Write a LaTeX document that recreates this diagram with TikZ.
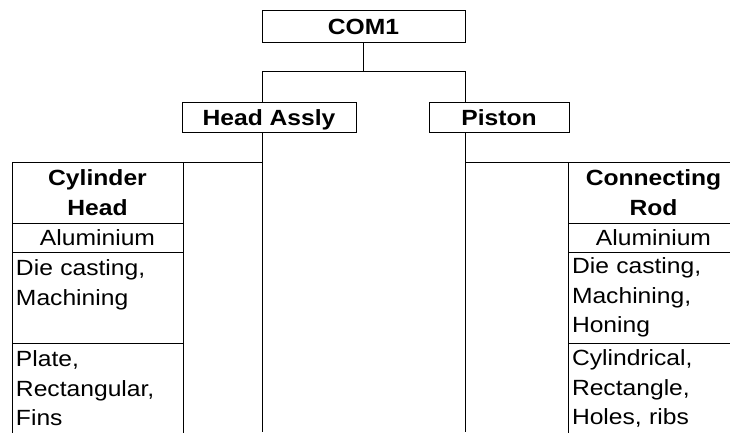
\documentclass[tikz,border=0pt]{standalone}
\usepackage{fontspec}
\setmainfont{Liberation Sans}[FakeStretch=1.12]
\usetikzlibrary{positioning}
\tikzset{
    title/.style = {rectangle, draw, font=\bfseries, inner sep=0pt, outer sep=0pt, text height=16pt, text depth=0pt, minimum height=30pt},
    cell/.style = {rectangle, draw, inner xsep=4pt, inner ysep=0pt, outer sep=0pt, text width=163pt, minimum height=29pt},
    headcell/.style = {cell, font=\bfseries, align=center},
    plaincell/.style = {cell, align=left},
    link/.style = {draw, line width=1pt}
}

\begin{document}
\fontsize{22}{29.5}\selectfont
\begin{tikzpicture}[x=1pt, y=-1pt, line width=1pt]
        \useasboundingbox (0,0) rectangle (730,432);
        \clip (0,0) rectangle (730,432);

        % Main Tree
        \node [title, minimum width=203pt, minimum height=32pt] (com1) at (363.5,26) {COM1};
        \node [title, minimum width=174pt] (headassly) at (269,117) {Head Assly};
        \node [title, minimum width=140pt] (piston) at (499,117) {Piston};
        \coordinate (busL) at (262,71);
        \coordinate (busR) at (465,71);
        \coordinate (baseL) at (262,432);
        \coordinate (baseR) at (465,432);

        % Left Column
        \node [headcell, minimum height=61pt, anchor=north west] (cylhead) at (12,162) {Cylinder\\Head};
        \node [plaincell, align=center, below=0pt of cylhead] (cylmat) {Aluminium};
        \node [plaincell, minimum height=91pt, below=0pt of cylmat] (cylproc) {Die casting,\\Machining\\~};
        \node [plaincell, minimum height=91pt, below=0pt of cylproc] (cylshape) {Plate,\\Rectangular,\\Fins};

        % Right Column
        \node [headcell, minimum height=61pt, anchor=north west] (conrod) at (568,162) {Connecting\\Rod};
        \node [plaincell, align=center, below=0pt of conrod] (rodmat) {Aluminium};
        \node [plaincell, minimum height=91pt, below=0pt of rodmat] (rodproc) {Die casting,\\Machining,\\Honing};
        \node [plaincell, minimum height=91pt, below=0pt of rodproc] (rodshape) {Cylindrical,\\Rectangle,\\Holes, ribs};

        % Edges
        \path [link] (com1.south) -- (com1.south |- busL);
        \path [link] (headassly.north -| busL) -- (busL) -- (busR) -- (piston.north -| busR);
        \path [link] (headassly.south -| busL) -- (baseL);
        \path [link] (piston.south -| busR) -- (baseR);
        \path [link] (cylhead.north east) -- (cylhead.north east -| baseL);
        \path [link] (conrod.north west) -- (conrod.north west -| baseR);

    \end{tikzpicture}
\end{document}
